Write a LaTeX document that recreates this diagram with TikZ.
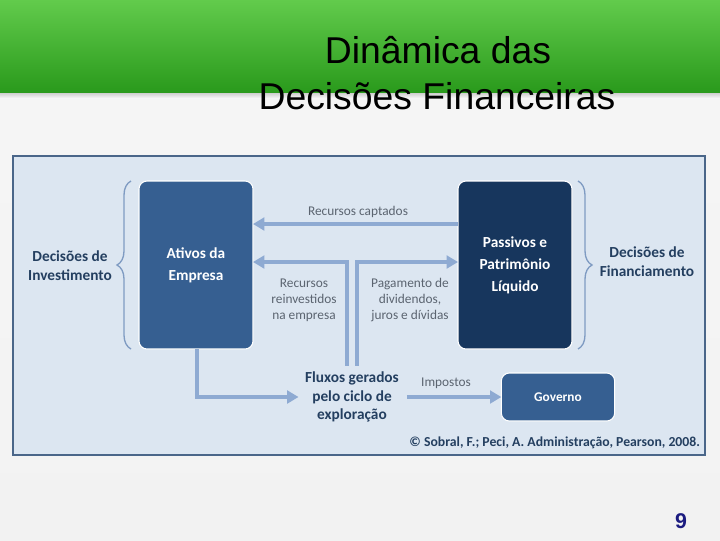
\documentclass[tikz,border=0pt]{standalone}
\usepackage{fontspec}
\setmainfont{Carlito}
\newfontfamily\titlefont{Liberation Sans}
\usetikzlibrary{arrows.meta,decorations.pathreplacing,calc}
\definecolor{bgtop}{HTML}{F6F6F6}
\definecolor{bgbot}{HTML}{F2F2F2}
\definecolor{panelfill}{HTML}{DCE6F1}
\definecolor{panelline}{HTML}{4A6689}
\definecolor{boxmid}{HTML}{365F91}
\definecolor{boxdark}{HTML}{17365D}
\definecolor{flowc}{HTML}{8EAAD2}
\definecolor{bracec}{HTML}{7F9BC2}
\definecolor{darktext}{HTML}{243F60}
\definecolor{lighttext}{HTML}{5B6470}
\definecolor{greentop}{HTML}{62CB4C}
\definecolor{greenbot}{HTML}{2A9A1C}
\definecolor{pagenum}{HTML}{1C1C80}
\begin{document}
\begin{tikzpicture}[x=0.75pt,y=-0.75pt,
  every node/.style={inner sep=0pt, outer sep=0pt},
  entity/.style={draw=white, line width=0.8pt, rounded corners=6pt, text=white,
    font=\bfseries\fontsize{11.5}{16.5}\selectfont, align=center},
  flow/.style={draw=flowc, line width=3.5pt, -{Triangle[width=9.5pt,length=8.5pt]}},
  sidelabel/.style={text=darktext, font=\bfseries\fontsize{11.5}{14.2}\selectfont, align=center},
  thinlabel/.style={text=lighttext, font=\fontsize{10}{12}\selectfont, align=center},
  curly/.style={draw=bracec, line width=1pt, decorate, decoration={brace, amplitude=10.5pt}}
]
\useasboundingbox (0,0) rectangle (720,540);
% background
\shade[top color=bgtop, bottom color=bgbot] (0,0) rectangle (720,540);
\shade[top color=black!22, bottom color=bgtop] (0,92) rectangle (720,98);
\shade[top color=greentop, bottom color=greenbot] (0,0) rectangle (720,92);
% title
\node[anchor=base, font=\titlefont\fontsize{28}{34}\selectfont] (title1) at (438,63) {Dinâmica das};
\node[anchor=base, font=\titlefont\fontsize{28}{34}\selectfont] (title2) at (437,109) {Decisões Financeiras};
% panel
\draw[draw=panelline, fill=panelfill, line width=1.1pt] (13,156) rectangle (705,455);
% boxes
\node[entity, fill=boxmid, minimum width=85.5pt, minimum height=126pt] (ativos) at (196,265) {Ativos da\\Empresa};
\node[entity, fill=boxdark, minimum width=85.5pt, minimum height=126pt] (passivos) at (515,265) {Passivos e\\Patrimônio\\Líquido};
\node[entity, fill=boxmid, minimum width=85pt, minimum height=36pt, font=\bfseries\fontsize{10}{12}\selectfont] (governo) at (558,397) {Governo};
% braces
\draw[curly] ([xshift=-6pt]ativos.south west) -- ([xshift=-6pt]ativos.north west);
\draw[curly] ([xshift=4.5pt]passivos.north east) -- ([xshift=4.5pt]passivos.south east);
% side labels
\node[sidelabel] (decinv) at (70,266) {Decisões de\\Investimento};
\node[sidelabel] (decfin) at (647,262) {Decisões de\\Financiamento};
\node[sidelabel, font=\bfseries\fontsize{11.5}{14}\selectfont] (fluxos) at (352,397) {Fluxos gerados\\pelo ciclo de\\exploração};
% flows
\coordinate (rowA) at (0,224);
\coordinate (rowB) at (0,262);
\draw[flow] (passivos.west |- rowA) -- (ativos.east |- rowA);
\draw[flow] ([xshift=-3.75pt,yshift=4.5pt]fluxos.north) |- (ativos.east |- rowB);
\draw[flow] ([xshift=3.75pt,yshift=4.5pt]fluxos.north) |- (passivos.west |- rowB);
\draw[flow] ([xshift=0.75pt]ativos.south) |- ([xshift=-5pt]fluxos.west);
\draw[flow] ([xshift=6pt]fluxos.east) -- (governo.west);
% thin labels
\node[thinlabel] (lblcapt) at (358,212) {Recursos captados};
\node[thinlabel] (lblreinv) at (304,300) {Recursos\\reinvestidos\\na empresa};
\node[thinlabel] (lblpag) at (410,300) {Pagamento de\\dividendos,\\juros e dívidas};
\node[thinlabel] (lblimp) at (446,383) {Impostos};
% credit
\node[anchor=east, text=darktext, font=\bfseries\fontsize{10.3}{12}\selectfont] (credit) at (700,443) {© Sobral, F.; Peci, A. Administração, Pearson, 2008.};
% page number
\node[anchor=base, text=pagenum, font=\titlefont\bfseries\fontsize{16}{19}\selectfont] (pnum) at (681,528) {9};
\end{tikzpicture}
\end{document}
